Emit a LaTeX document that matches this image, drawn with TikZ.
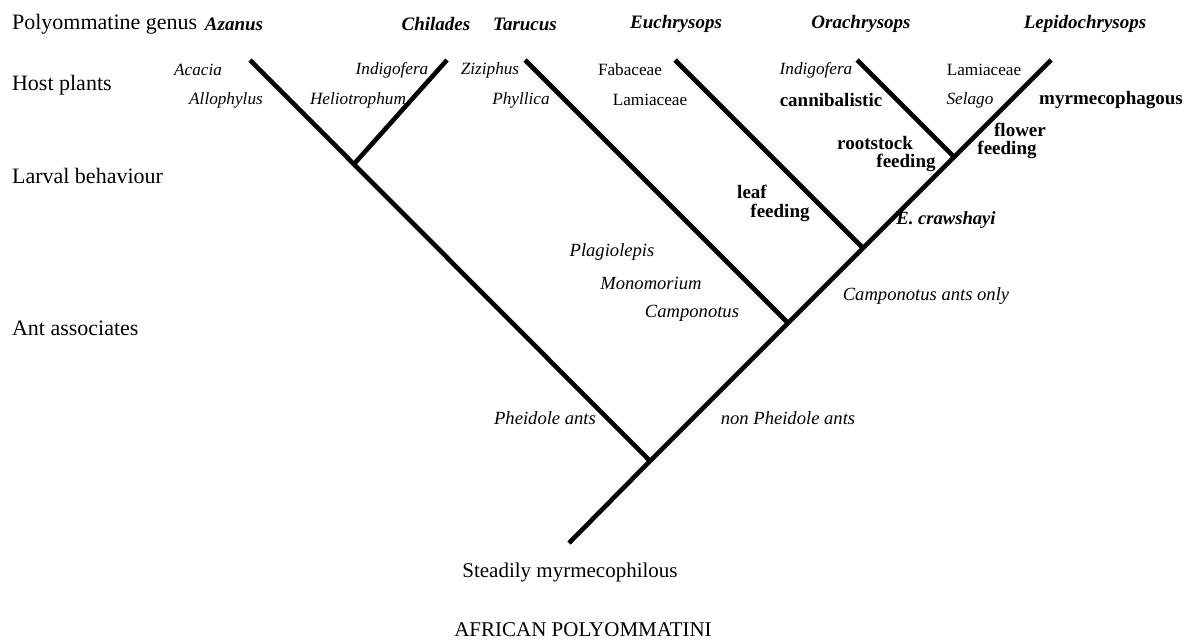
\documentclass[tikz,border=0pt]{standalone}
\usepackage{fontspec}
\setmainfont{Liberation Serif}
\usetikzlibrary{positioning}

\tikzset{
  branch/.style={line width=2.3pt},
  rowlabel/.style={anchor=west, font=\fontsize{11}{13}\selectfont},
  genus/.style={font=\fontsize{9.5}{11}\selectfont\bfseries\itshape},
  plant/.style={font=\fontsize{8.6}{10}\selectfont\itshape},
  family/.style={font=\fontsize{8.6}{10}\selectfont},
  habit/.style={font=\fontsize{9.5}{11}\selectfont\bfseries},
  antname/.style={font=\fontsize{9.3}{11}\selectfont\itshape},
  foot/.style={font=\fontsize{10.5}{12}\selectfont}
}

\begin{document}
\begin{tikzpicture}[x=0.5pt,y=-0.5pt]
		%				\draw [help lines] (0,0) grid (1193,639);
		\useasboundingbox (0,0) rectangle (1193,639);
		% tree
		\coordinate (stem) at (569,543);
		\coordinate (root) at (650,461);
		\coordinate (azanus) at (250,60);
		\coordinate (jAC) at (354,164);
		\coordinate (chilades) at (447,60);
		\coordinate (jT) at (788,323);
		\coordinate (tarucus) at (525,60);
		\coordinate (jE) at (863,248);
		\coordinate (euchry) at (675,60);
		\coordinate (jO) at (954,157);
		\coordinate (orachry) at (857,60);
		\coordinate (lepido) at (1051,60);
		\draw [branch] (stem) -- (root);
		\draw [branch] (root) -- (azanus);
		\draw [branch] (jAC) -- (chilades);
		\draw [branch] (root) -- (lepido);
		\draw [branch] (jT) -- (tarucus);
		\draw [branch] (jE) -- (euchry);
		\draw [branch] (jO) -- (orachry);
		% rows
		\node [rowlabel] (rGenus) at (5,24) {Polyommatine genus};
		\node [rowlabel] (rHost) at (5,85) {Host plants};
		\node [rowlabel] (rLarva) at (5,176) {Larval behaviour};
		\node [rowlabel] (rAnts) at (5,328) {Ant associates};
		% genera
		\node [genus] (gAzanus) at (234,24) {Azanus};
		\node [genus] (gChilades) at (436,24) {Chilades};
		\node [genus] (gTarucus) at (525,24) {Tarucus};
		\node [genus] (gEuchry) at (676,24) {Euchrysops};
		\node [genus] (gOrachry) at (861,24) {Orachrysops};
		\node [genus] (gLepido) at (1085,24) {Lepidochrysops};
		% host plants
		\node [plant] (hAcacia) at (198,70) {Acacia};
		\node [plant] (hAlloph) at (226,100) {Allophylus};
		\node [plant] (hIndigo) at (392,70) {Indigofera};
		\node [plant] (hHelio) at (358,100) {Heliotrophum};
		\node [plant] (hZiziph) at (490,70) {Ziziphus};
		\node [plant] (hPhyll) at (521,100) {Phyllica};
		\node [family] (hFabac) at (630,70) {Fabaceae};
		\node [family] (hLamiA) at (650,100) {Lamiaceae};
		\node [plant] (hIndigoB) at (816,70) {Indigofera};
		\node [family] (hLamiB) at (984,70) {Lamiaceae};
		\node [plant] (hSelago) at (970,100) {Selago};
		% larval behaviour
		\node [habit] (bCanni) at (831,100) {cannibalistic};
		\node [habit] (bMyrm) at (1111,100) {myrmecophagous};
		\node [habit] (bRoot) at (875,143) {rootstock};
		\node [habit] (bRootF) at (906,163) {feeding};
		\node [habit] (bFlower) at (1020,130) {flower};
		\node [habit] (bFlowerF) at (1007,150) {feeding};
		\node [habit] (bLeaf) at (752,192) {leaf};
		\node [habit] (bLeafF) at (780,213) {feeding};
		\node [antname, font=\fontsize{9.3}{11}\selectfont\bfseries\itshape] (eCraw) at (946,220) {E. crawshayi};
		% ant associates
		\node [antname] (aCampOnly) at (926,296) {Camponotus ants only};
		\node [antname] (aPlagio) at (612,252) {Plagiolepis};
		\node [antname] (aMonom) at (651,283) {Monomorium};
		\node [antname] (aCampon) at (692,313) {Camponotus};
		\node [antname] (aPheid) at (545,418) {Pheidole ants};
		\node [antname] (aNonPheid) at (788,418) {non Pheidole ants};
		% base
		\node [foot] (steady) at (570,572) {Steadily myrmecophilous};
		\node [foot] (tribe) at (583,630) {AFRICAN POLYOMMATINI};
	\end{tikzpicture}
\end{document}
